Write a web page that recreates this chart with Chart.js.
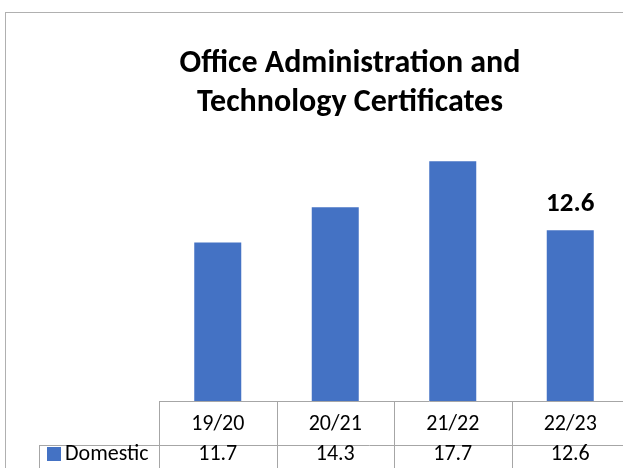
<!DOCTYPE html>
<html>
<head>
<meta charset="utf-8">
<script src="https://cdn.jsdelivr.net/npm/chart.js@4"></script>
<style>
  html, body { margin: 0; padding: 0; background: #fff; overflow: hidden; }
  #wrap { position: absolute; left: 0; top: 0; width: 700px; height: 468px; }
</style>
</head>
<body>
<div id="wrap"><canvas id="chart" width="700" height="468"></canvas></div>
<script>
const categories = ['19/20', '20/21', '21/22', '22/23'];
const domestic = [11.7, 14.3, 17.7, 12.6];
const seriesName = 'Domestic';
const labelledBars = [3]; // only the last bar carries a data label
const titleLines = ['Office Administration and', 'Technology Certificates'];

const FONT = "Carlito, Lato, 'Liberation Sans', sans-serif";
const BLUE = '#4472C4';

// chart border (outer frame, right/bottom fall outside the window)
const framePlugin = {
    id: 'frame',
    beforeDraw(chart) {
        const ctx = chart.ctx;
        ctx.save();
        ctx.strokeStyle = '#b0b0b0';
        ctx.lineWidth = 1;
        ctx.strokeRect(5.5, 12.5, 688, 480);
        ctx.restore();
    }
};

// data table under the bars, built from the arrays above
const tablePlugin = {
    id: 'dataTable',
    afterDraw(chart) {
        const { ctx, chartArea } = chart;
        const x = chart.scales.x;
        const step = (chartArea.right - chartArea.left) / categories.length;
        const top = chartArea.bottom;
        const rowH = 44;
        const legendLeft = 39;
        ctx.save();
        ctx.strokeStyle = '#a6a6a6';
        ctx.lineWidth = 1;
        ctx.beginPath();
        ctx.moveTo(chartArea.left, top + 0.5);
        ctx.lineTo(chart.width, top + 0.5);
        ctx.moveTo(legendLeft, top + rowH + 0.5);
        ctx.lineTo(chart.width, top + rowH + 0.5);
        for (let i = 0; i <= categories.length; i++) {
            const px = Math.round(chartArea.left + i * step) + 0.5;
            ctx.moveTo(px, top);
            ctx.lineTo(px, chart.height);
        }
        ctx.moveTo(legendLeft + 0.5, top + rowH);
        ctx.lineTo(legendLeft + 0.5, chart.height);
        ctx.stroke();

        ctx.fillStyle = '#000';
        ctx.font = "22px " + FONT;
        ctx.textAlign = 'center';
        ctx.textBaseline = 'middle';
        categories.forEach((c, i) => {
            const cx = x.getPixelForValue(i);
            ctx.fillText(c, cx, top + 23);
            ctx.fillText(domestic[i].toFixed(1), cx, top + rowH + 9);
        });
        // legend key + series name
        ctx.fillStyle = BLUE;
        ctx.fillRect(47, top + rowH + 2, 14, 14);
        ctx.fillStyle = '#000';
        ctx.textAlign = 'left';
        ctx.fillText(seriesName, 65, top + rowH + 9);
        ctx.restore();
    }
};

// value label above selected bars
const labelPlugin = {
    id: 'barLabels',
    afterDatasetsDraw(chart) {
        const ctx = chart.ctx;
        const meta = chart.getDatasetMeta(0);
        ctx.save();
        ctx.fillStyle = '#000';
        ctx.font = "bold 27px " + FONT;
        ctx.textAlign = 'center';
        ctx.textBaseline = 'middle';
        labelledBars.forEach(i => {
            const bar = meta.data[i];
            ctx.fillText(domestic[i].toFixed(1), bar.x, bar.y - 26);
        });
        ctx.restore();
    }
};

new Chart(document.getElementById('chart').getContext('2d'), {
    type: 'bar',
    data: {
        labels: categories,
        datasets: [{
            label: seriesName,
            data: domestic,
            backgroundColor: BLUE,
            borderWidth: 0,
            categoryPercentage: 1,
            barPercentage: 0.4
        }]
    },
    options: {
        responsive: false,
        animation: false,
        devicePixelRatio: 1,
        layout: { padding: { left: 71, right: 71, top: 0, bottom: 67 } },
        plugins: {
            legend: { display: false },
            tooltip: { enabled: false },
            title: {
                display: true,
                text: titleLines,
                color: '#000',
                font: { family: FONT, size: 32, weight: 'bold', lineHeight: 1.22 },
                padding: { top: 44, bottom: 8 }
            }
        },
        scales: {
            x: { display: false },
            y: {
                display: true,
                min: 0,
                max: 20,
                grid: { display: false },
                border: { display: false },
                ticks: { display: false },
                afterFit(scale) { scale.width = 88; }
            }
        }
    },
    plugins: [framePlugin, tablePlugin, labelPlugin]
});
</script>
</body>
</html>
